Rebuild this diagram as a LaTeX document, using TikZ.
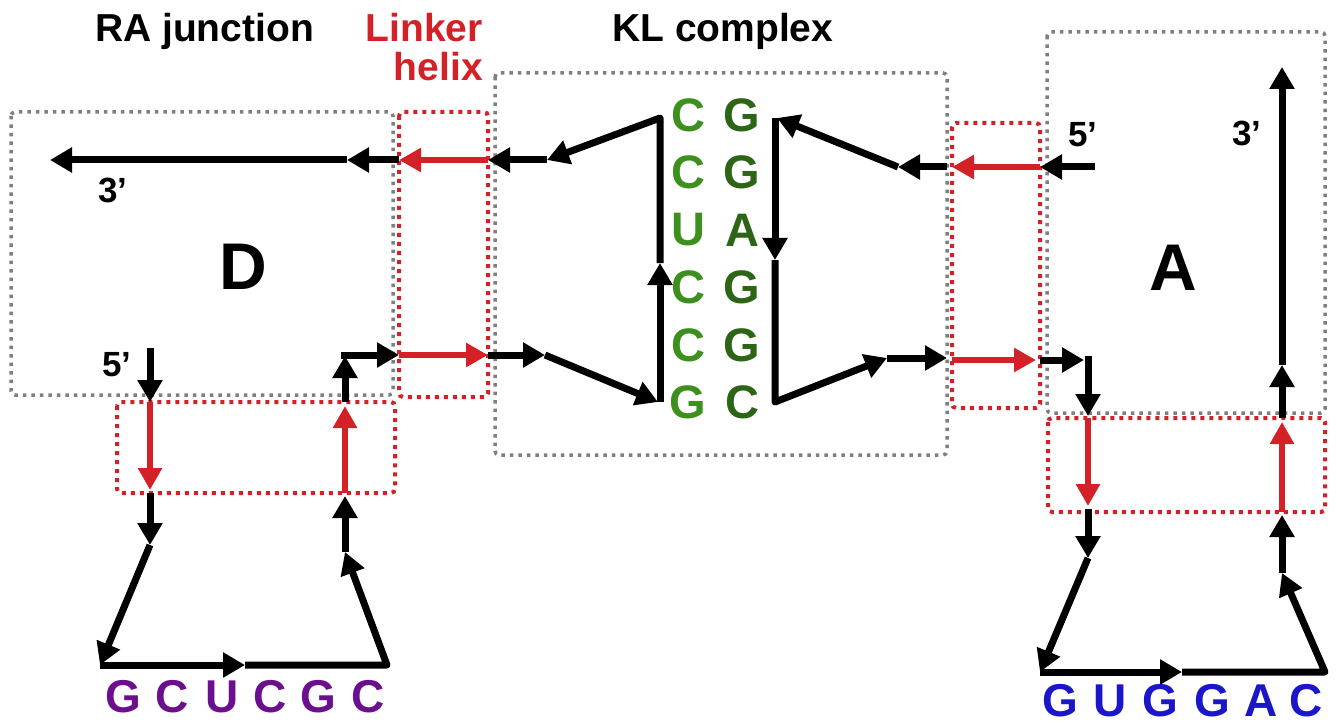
\documentclass[tikz,border=0pt]{standalone}
\usepackage{fontspec}
\setmainfont{Liberation Sans}
\usetikzlibrary{arrows.meta}
\definecolor{rdc}{HTML}{D42027}
\definecolor{gry}{HTML}{7F7F7F}
\definecolor{lgreen}{HTML}{3D8F1E}
\definecolor{dgreen}{HTML}{2B6515}
\definecolor{purp}{HTML}{6B0F8E}
\definecolor{blu}{HTML}{1B16C8}
\begin{document}
\begin{tikzpicture}[x=1pt,y=-1pt,
 blk/.style={line width=7pt, black, -{Triangle[length=22pt,width=24pt]}, line join=round},
 rd/.style={line width=5.5pt, rdc, -{Triangle[length=22pt,width=23pt]}},
 gbox/.style={draw=gry, line width=3.5pt, dash pattern=on 3.5pt off 5pt, rounded corners=4pt},
 rbox/.style={draw=rdc, line width=4pt, dash pattern=on 4pt off 5pt, rounded corners=4pt},
 ttl/.style={font=\fontsize{39}{44}\selectfont\bfseries, inner sep=0pt},
 prime/.style={font=\fontsize{35}{40}\selectfont\bfseries, inner sep=0pt},
 big/.style={font=\fontsize{66}{70}\selectfont\bfseries, inner sep=0pt},
 basel/.style={font=\fontsize{47}{50}\selectfont\bfseries, inner sep=0pt, text=lgreen},
 baser/.style={font=\fontsize{47}{50}\selectfont\bfseries, inner sep=0pt, text=dgreen},
 seqp/.style={font=\fontsize{46}{50}\selectfont\bfseries, inner sep=0pt, text=purp},
 seqb/.style={font=\fontsize{46}{50}\selectfont\bfseries, inner sep=0pt, text=blu},
]
\useasboundingbox (0,0) rectangle (1337,727);

% ---- boxes ----
\draw[gbox] (11,112) rectangle (393,395);
\draw[gbox] (495,73) rectangle (947,455);
\draw[gbox] (1047,32) rectangle (1325,413);
\draw[rbox] (399,112) rectangle (488,397);
\draw[rbox] (952,123) rectangle (1040,408);
\draw[rbox] (117,402) rectangle (395,493);
\draw[rbox] (1048,418) rectangle (1325,512);

% ---- coordinates ----
% D side, top strand
\coordinate (t1) at (488,160);
\coordinate (t2) at (399,160);
\coordinate (t3) at (347,160);
\coordinate (t4) at (50,160);
% D side, loop
\coordinate (d0) at (150,348);
\coordinate (d1) at (150,402);
\coordinate (d2) at (150,490);
\coordinate (d2b) at (150,493);
\coordinate (d3) at (150,545);
\coordinate (d4) at (100,665);
\coordinate (d5) at (245,665);
\coordinate (d6) at (387,665);
\coordinate (d7) at (345,552);
\coordinate (d8) at (345,496);
\coordinate (d9) at (345,493);
\coordinate (d10) at (345,406);
\coordinate (d11) at (345,402);
\coordinate (d12) at (345,356);
\coordinate (d13) at (341,355);
\coordinate (d14) at (399,355);
\coordinate (d15) at (488,355);
% KL
\coordinate (k1) at (545,355);
\coordinate (k2) at (658,402);
\coordinate (k3) at (660,402);
\coordinate (k4) at (660,263);
\coordinate (k5) at (660,118);
\coordinate (k6) at (547,160);
\coordinate (k7) at (947,167);
\coordinate (k8) at (898,167);
\coordinate (k9) at (777,118);
\coordinate (k10) at (775,118);
\coordinate (k11) at (775,260);
\coordinate (k12) at (775,402);
\coordinate (k13) at (887,358);
\coordinate (k14) at (947,358);
% A side
\coordinate (a1) at (1095,167);
\coordinate (a2) at (1040,167);
\coordinate (a3) at (952,167);
\coordinate (a4) at (952,360);
\coordinate (a5) at (1036,360);
\coordinate (a6) at (1040,360);
\coordinate (a7) at (1084,360);
\coordinate (a8) at (1088,356);
\coordinate (a9) at (1088,416);
\coordinate (a10) at (1088,418);
\coordinate (a11) at (1088,506);
\coordinate (a12) at (1088,509);
\coordinate (a13) at (1088,558);
\coordinate (a14) at (1040,672);
\coordinate (a15) at (1182,672);
\coordinate (a16) at (1325,672);
\coordinate (a17) at (1282,573);
\coordinate (a18) at (1282,515);
\coordinate (a19) at (1282,512);
\coordinate (a20) at (1282,422);
\coordinate (a21) at (1282,418);
\coordinate (a22) at (1282,365);
\coordinate (a23) at (1282,67);

% ---- strands ----
\draw[rd] (t1) -- (t2);
\draw[blk] (t2) -- (t3);
\draw[blk] (t3) -- (t4);
\draw[blk] (d0) -- (d1);
\draw[rd] (d1) -- (d2);
\draw[blk] (d2b) -- (d3);
\draw[blk] (d3) -- (d4);
\draw[blk] (d4) -- (d5);
\draw[blk] (d5) -- (d6) -- (d7);
\draw[blk] (d7) -- (d8);
\draw[rd] (d9) -- (d10);
\draw[blk] (d11) -- (d12);
\draw[blk] (d13) -- (d14);
\draw[rd] (d14) -- (d15);

\draw[blk] (d15) -- (k1);
\draw[blk] (k1) -- (k2);
\draw[blk] (k3) -- (k4);
\draw[blk] (k4) -- (k5) -- (k6);
\draw[blk] (k6) -- (t1);
\draw[blk] (k7) -- (k8);
\draw[blk] (k8) -- (k9);
\draw[blk] (k10) -- (k11);
\draw[blk] (k11) -- (k12) -- (k13);
\draw[blk] (k13) -- (k14);

\draw[blk] (a1) -- (a2);
\draw[rd] (a2) -- (a3);
\draw[rd] (a4) -- (a5);
\draw[blk] (a6) -- (a7);
\draw[blk] (a8) -- (a9);
\draw[rd] (a10) -- (a11);
\draw[blk] (a12) -- (a13);
\draw[blk] (a13) -- (a14);
\draw[blk] (a14) -- (a15);
\draw[blk] (a15) -- (a16) -- (a17);
\draw[blk] (a17) -- (a18);
\draw[rd] (a19) -- (a20);
\draw[blk] (a21) -- (a22);
\draw[blk] (a22) -- (a23);

% ---- titles ----
\node[ttl, anchor=base west] (tra) at (95,42) {RA junction};
\node[ttl, anchor=base east, text=rdc] (tlk) at (483,42) {Linker};
\node[ttl, anchor=base east, text=rdc] (thx) at (483,81) {helix};
\node[ttl, anchor=base west] (tkl) at (612,42) {KL complex};

% ---- labels ----
\node[prime] (p3l) at (113,190) {3’};
\node[prime] (p5l) at (117,365) {5’};
\node[prime] (p5r) at (1083,135) {5’};
\node[prime] (p3r) at (1247,133) {3’};
\node[big] (lD) at (243,267) {D};
\node[big] (lA) at (1173,268) {A};

% ---- KL bases ----
\node[basel] (c1) at (688,115) {C};
\node[basel] (c2) at (688,172) {C};
\node[basel] (c3) at (688,230) {U};
\node[basel] (c4) at (688,287) {C};
\node[basel] (c5) at (688,345) {C};
\node[basel] (c6) at (688,402) {G};
\node[baser] (g1) at (742,115) {G};
\node[baser] (g2) at (742,172) {G};
\node[baser] (g3) at (742,230) {A};
\node[baser] (g4) at (742,287) {G};
\node[baser] (g5) at (742,345) {G};
\node[baser] (g6) at (742,402) {C};

% ---- loop sequences ----
\node[seqp] (s1) at (123,697) {G};
\node[seqp] (s2) at (172,697) {C};
\node[seqp] (s3) at (222,697) {U};
\node[seqp] (s4) at (270,697) {C};
\node[seqp] (s5) at (318,697) {G};
\node[seqp] (s6) at (368,697) {C};
\node[seqb] (b1) at (1060,701) {G};
\node[seqb] (b2) at (1110,701) {U};
\node[seqb] (b3) at (1160,701) {G};
\node[seqb] (b4) at (1212,701) {G};
\node[seqb] (b5) at (1261,701) {A};
\node[seqb] (b6) at (1306,701) {C};
\end{tikzpicture}
\end{document}
